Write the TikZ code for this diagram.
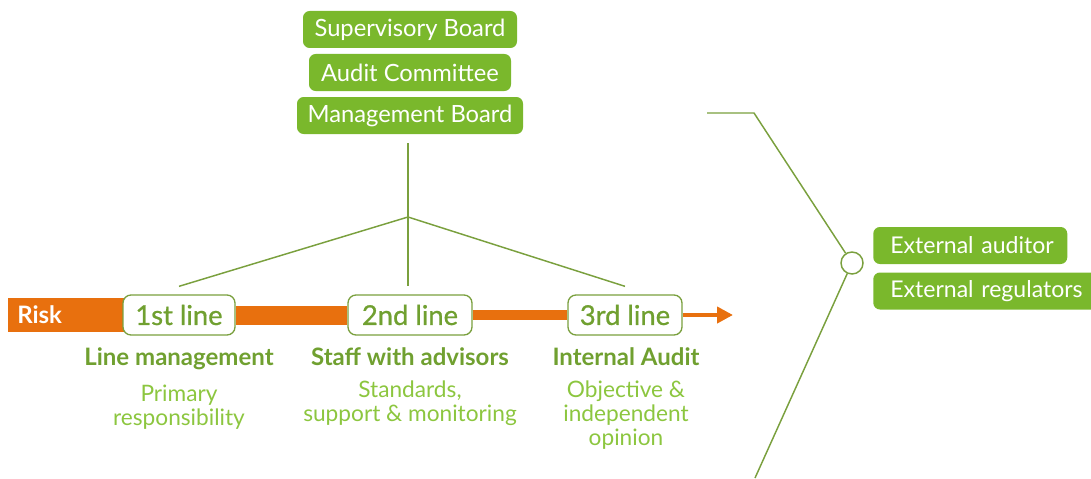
\documentclass[tikz,border=0pt]{standalone}
\usepackage{fontspec}
\setmainfont{Lato}
\newfontfamily\linefont{Lato}[FakeBold=0.8]
\usetikzlibrary{arrows.meta, positioning, backgrounds}

\definecolor{boardgreen}{RGB}{122,184,44}
\definecolor{linegreen}{RGB}{122,160,62}
\definecolor{textgreen}{RGB}{112,160,48}
\definecolor{lightgreen}{RGB}{140,198,63}
\definecolor{riskorange}{RGB}{232,112,14}

\begin{document}
\begin{tikzpicture}[
    x=0.75pt, y=-0.75pt,
    board/.style={
      fill=boardgreen,
      text=white,
      rounded corners=5pt,
      minimum height=27.75pt,
      inner sep=0pt,
      font=\fontsize{17.8}{20}\selectfont
    },
    extboard/.style={
      board,
      anchor=west,
      align=left,
      inner xsep=0pt,
      execute at begin node={\hspace*{12.75pt}},
      font=\fontsize{17.3}{20}\selectfont
    },
    linebox/.style={
      draw=linegreen,
      fill=white,
      line width=1pt,
      rounded corners=6pt,
      minimum height=30pt,
      inner sep=0pt,
      text=textgreen,
      font=\linefont\fontsize{20.5}{23}\selectfont
    },
    role/.style={text=textgreen, inner sep=0pt, font=\bfseries\fontsize{18}{21}\selectfont},
    duty/.style={text=lightgreen, align=center, inner sep=0pt, font=\fontsize{17}{18.3}\selectfont},
    conn/.style={draw=linegreen, line width=1.1pt}
  ]

  \clip (0,0) rectangle (1091,478);

  % ===================== boards =====================
  \node[board, minimum width=160.5pt] (supervisory) at (410,29.5) {Supervisory Board};
  \node[board, minimum width=151.5pt] (audit) at (410,72.5) {Audit Committee};
  \node[board, minimum width=169.5pt] (management) at (410,115.5) {Management Board};

  % ===================== three lines =====================
  \node[linebox, minimum width=84pt] (line1) at (179,315) {1st line};
  \node[linebox, minimum width=93pt] (line2) at (410,315) {2nd line};
  \node[linebox, minimum width=85.5pt] (line3) at (625,315) {3rd line};

  \node[role, anchor=base] (role1) at (179,365) {Line management};
  \node[role, anchor=base] (role2) at (410,365) {Staff with advisors};
  \node[role, anchor=base] (role3) at (626,365) {Internal Audit};

  \node[duty, below=11pt of role1] (duty1) {Primary\\responsibility};
  \node[duty, below=11pt of role2] (duty2) {Standards,\\support \& monitoring};
  \node[duty, below=11pt of role3] (duty3) {Objective \&\\independent\\opinion};

  % ===================== risk arrow =====================
  \coordinate (riskend) at (733,315);
  \begin{scope}[on background layer]
    \node[fill=riskorange, text=white, anchor=west, minimum height=25.5pt,
          inner xsep=6.75pt, text width=74.25pt, align=left,
          font=\bfseries\fontsize{18}{21}\selectfont] (risk) at (8,315) {Risk};
    \draw[riskorange, line width=14.25pt] (line1.east) -- (line2.west);
    \draw[riskorange, line width=7pt] (line2.east) -- (line3.west);
    \draw[riskorange, line width=3.4pt, -{Triangle[length=12pt, width=12pt]}] (line3.east) -- (riskend);
  \end{scope}

  % ===================== reporting lines =====================
  \coordinate (hub) at (408,217);
  \draw[conn] ([xshift=-1.5pt, yshift=-6.75pt]management.south) -- ([xshift=-1.5pt, yshift=6pt]line2.north);
  \draw[conn] (hub) -- ([yshift=6pt]line1.north);
  \draw[conn] (hub) -- ([yshift=6pt]line3.north);

  % ===================== external parties =====================
  \coordinate (ext-start) at (707,113);
  \coordinate (ext-bend) at (754,113);
  \coordinate (ext-end) at (755,478);
  \node[circle, draw=linegreen, line width=1.1pt, fill=white, minimum size=16.5pt, inner sep=0pt] (ext) at (852,263) {};
  \draw[conn] (ext-start) -- (ext-bend) -- (ext);
  \draw[conn] (ext) -- (ext-end);

  \node[extboard, text width=145.5pt] (auditor) at (873,245.5) {External auditor};
  \node[extboard, text width=170pt] (regulators) at (873,291) {External regulators};

\end{tikzpicture}
\end{document}
